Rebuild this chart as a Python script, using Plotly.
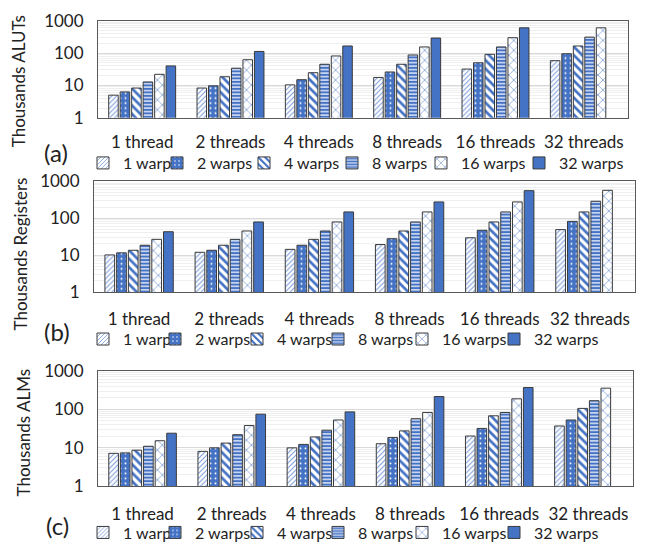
import plotly.graph_objects as go

categories = ["1 thread", "2 threads", "4 threads", "8 threads", "16 threads", "32 threads"]
series_names = ["1 warp", "2 warps", "4 warps", "8 warps", "16 warps", "32 warps"]

# Panel (a): Thousands ALUTs, one list per warp count across thread categories
aluts_1w = [5.0, 8.3, 10.4, 17.6, 32, 58]
aluts_2w = [6.3, 9.7, 15, 26, 50, 95]
aluts_4w = [8.3, 18.5, 24.7, 45, 91, 165]
aluts_8w = [12.8, 34, 45, 87, 154, 310]
aluts_16w = [22, 62, 81, 154, 297, 600]
aluts_32w = [40, 112, 165, 290, 600, None]

# Panel (b): Thousands Registers
regs_1w = [10.1, 11.9, 14.3, 19.3, 29.5, 49]
regs_2w = [11.5, 13.5, 18.5, 27.8, 47, 82]
regs_4w = [13.5, 18.5, 26.7, 45, 79, 148]
regs_8w = [18.5, 26.7, 45, 79, 148, 288]
regs_16w = [26.7, 45, 79, 148, 276, 570]
regs_32w = [43, 79, 148, 276, 558, None]

# Panel (c): Thousands ALMs
alms_1w = [7.2, 8.1, 10, 12.8, 20.3, 37]
alms_2w = [7.4, 10, 12.3, 18.5, 32, 53]
alms_4w = [8.7, 13.3, 19.2, 27.6, 68, 106]
alms_8w = [11, 22, 28.7, 57, 83, 168]
alms_16w = [15.3, 38, 53, 83, 188, 355]
alms_32w = [24, 75, 86, 215, 369, None]

y_tickvals = [1, 10, 100, 1000]
y_ticktext = ["1", "10", "100", "1000"]

panels = [
    ("a", "Thousands ALUTs", [aluts_1w, aluts_2w, aluts_4w, aluts_8w, aluts_16w, aluts_32w]),
    ("b", "Thousands Registers", [regs_1w, regs_2w, regs_4w, regs_8w, regs_16w, regs_32w]),
    ("c", "Thousands ALMs", [alms_1w, alms_2w, alms_4w, alms_8w, alms_16w, alms_32w]),
]

BLUE = "#4472C4"
patterns = [
    dict(shape="/", fgcolor="#7C9DDA", bgcolor="white", size=3.5, solidity=0.3, fillmode="replace"),
    dict(shape=".", fgcolor="white", bgcolor=BLUE, size=5, solidity=0.12, fillmode="replace"),
    dict(shape="\\", fgcolor=BLUE, bgcolor="white", size=6, solidity=0.45, fillmode="replace"),
    dict(shape="-", fgcolor=BLUE, bgcolor="#C5D3EE", size=3.5, solidity=0.5, fillmode="replace"),
    dict(shape="x", fgcolor=BLUE, bgcolor="white", size=7, solidity=0.15, fillmode="replace"),
    dict(shape="", fgcolor=BLUE, bgcolor=BLUE, fillmode="replace"),
]

W, H = 650, 556
FONT = "Lato"

# geometry in pixels (left, right, top, bottom)
geo = [(98, 628, 10, 111), (94, 635, 177, 292), (98, 633, 374, 494)]
label_standoff = [9, 12, 12]
legend_y = [158, 341, 542]
legend_swatch_x = [
    [109, 183, 270, 358, 447, 545],
    [109, 181, 263, 344, 428, 520],
    [109, 181, 263, 344, 428, 520],
]
legend_font = [16, 16, 16]
label_pos = [(56, 147), (57, 333), (57, 535)]
title_pos = [(18, 73), (20, 253), (23, 438)]

fig = go.Figure()
layout = {}
annotations = []
for i, (tag, ytitle, series) in enumerate(panels):
    sfx = "" if i == 0 else str(i + 1)
    xa, ya = "x" + sfx, "y" + sfx
    for j, (name, vals, pat) in enumerate(zip(series_names, series, patterns)):
        lg = "legend" + str(i * 6 + j + 2)
        fig.add_trace(go.Bar(
            x=categories, y=vals, name=name, xaxis=xa, yaxis=ya, legend=lg,
            marker=dict(color=BLUE if pat["shape"] == "" else "white",
                        pattern=pat, line=dict(color="#3A3A3A", width=1)),
        ))
        sx = legend_swatch_x[i][j] - 6 - 20
        layout[lg] = dict(
            orientation="h", x=sx / W, y=1 - legend_y[i] / H,
            xanchor="left", yanchor="middle",
            font=dict(family=FONT, size=legend_font[i], color="#222"),
            itemwidth=30, bgcolor="rgba(0,0,0,0)", borderwidth=0,
        )
    l, r, t, b = geo[i]
    layout["xaxis" + sfx] = dict(
        domain=[l / W, r / W], anchor=ya, showline=True, linecolor="#595959",
        mirror=True, ticks="", ticklabelstandoff=label_standoff[i],
        tickfont=dict(family=FONT, size=17, color="#222"),
    )
    layout["yaxis" + sfx] = dict(
        domain=[1 - b / H, 1 - t / H], anchor=xa, type="log", range=[0, 3],
        tickvals=y_tickvals, ticktext=y_ticktext, showline=True, linecolor="#595959",
        mirror=True, gridcolor="#D9D9D9", ticks="", ticklabelstandoff=10,
        tickfont=dict(family=FONT, size=17, color="#222"),
        minor=dict(showgrid=True, gridcolor="#EFEFEF", dtick="D1"),
        zeroline=False,
    )
    px_, py_ = label_pos[i]
    annotations.append(dict(text="(" + tag + ")", x=px_ / W, y=1 - py_ / H,
                            xref="paper", yref="paper", showarrow=False,
                            xanchor="center", yanchor="middle",
                            font=dict(family=FONT, size=24, color="#222")))
    tx, ty = title_pos[i]
    annotations.append(dict(text=ytitle, x=tx / W, y=1 - ty / H, textangle=-90,
                            xref="paper", yref="paper", showarrow=False,
                            xanchor="center", yanchor="middle",
                            font=dict(family=FONT, size=17, color="#222")))

fig.update_layout(
    width=W, height=H, margin=dict(l=0, r=0, t=0, b=0),
    paper_bgcolor="white", plot_bgcolor="white",
    barmode="group", bargap=0.22, bargroupgap=0.17,
    annotations=annotations, **layout,
)
fig.write_html("out.html", config={"displayModeBar": False},
               post_script="document.body.style.margin='0';")
